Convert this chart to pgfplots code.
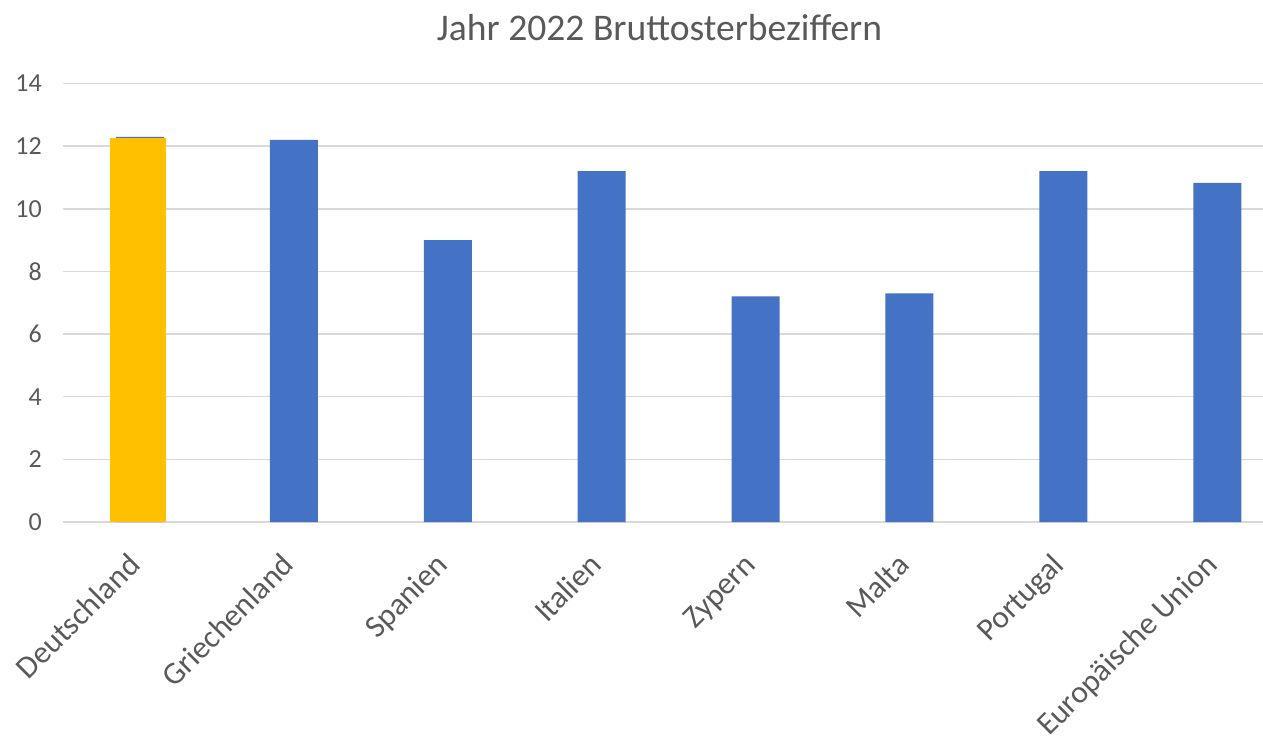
\documentclass[border=0pt]{standalone}
\usepackage{fontspec}
\setmainfont{Carlito}
\usepackage{pgfplots}
\pgfplotsset{compat=1.18}
\definecolor{barblue}{HTML}{4472C4}
\definecolor{barorange}{HTML}{FFC000}
\definecolor{textgray}{HTML}{595959}
\definecolor{gridgray}{HTML}{D9D9D9}

\begin{document}
\begin{tikzpicture}
\useasboundingbox (-63pt,-218pt) rectangle (1200pt,522pt);
\begin{axis}[
  at={(0pt,0pt)}, anchor=south west,
  scale only axis, width=1200pt, height=438.5pt,
  ybar, bar width=48pt,
  xmin=-0.5, xmax=7.297, ymin=0, ymax=14,
  ytick={0,2,...,14},
  xtick={0,...,7},
  xticklabels={Deutschland, Griechenland, Spanien, Italien, Zypern, Malta, Portugal, Europäische Union},
  ymajorgrids, grid style={draw=gridgray, line width=1.5pt},
  axis line style={draw=none},
  major tick length=0pt,
  tick style={draw=none},
  /pgf/number format/assume math mode=true,
  ticklabel style={text=textgray},
  yticklabel style={font=\fontsize{26}{31}\selectfont, inner sep=0pt, anchor=east, xshift=-21pt},
  xticklabel style={font=\fontsize{31.5}{38}\selectfont, inner sep=0pt, xshift=2pt, yshift=-45pt, rotate=45, anchor=base east},
  clip=false,
]
% Bruttosterbeziffern 2022
\addplot[fill=barblue, draw=none, bar shift=0pt] coordinates {
  (0,12.3) (1,12.2) (2,9.0) (3,11.2) (4,7.2) (5,7.3) (6,11.2) (7,10.83)
};
% Deutschland hervorgehoben
\addplot[fill=barorange, draw=none, bar shift=-2pt, bar width=56pt] coordinates {
  (0,12.25)
};
\end{axis}
\node[font=\fontsize{37.6}{45}\selectfont, text=textgray, anchor=base] at (596.5pt,481.5pt) {Jahr 2022 Bruttosterbeziffern};
\end{tikzpicture}
\end{document}
